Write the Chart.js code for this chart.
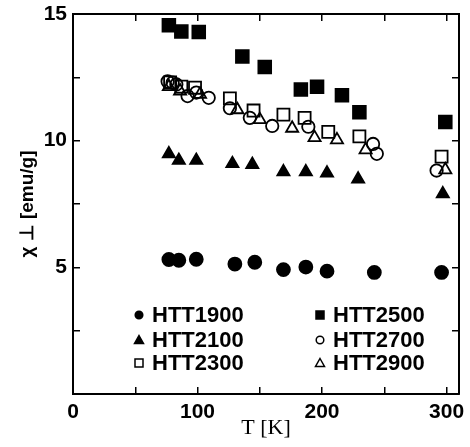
<!DOCTYPE html>
<html>
<head>
<meta charset="utf-8">
<script src="https://cdn.jsdelivr.net/npm/chart.js@4.4.1/dist/chart.umd.min.js"></script>
<style>
  html, body { margin: 0; padding: 0; background: #fff; }
  #wrap { width: 470px; height: 447px; }
</style>
</head>
<body>
<div id="wrap"><canvas id="chart" width="470" height="447"></canvas></div>
<script>

// T [K] and chi values, one pair of arrays per sample
const tHTT1900 = [77, 85, 99, 130, 146, 169, 187, 204, 242, 296]
const chiHTT1900 = [5.31, 5.28, 5.32, 5.13, 5.20, 4.91, 5.01, 4.85, 4.80, 4.80]

const tHTT2100 = [77, 85, 99, 128, 144, 169, 187, 204, 229, 297]
const chiHTT2100 = [9.48, 9.22, 9.22, 9.09, 9.06, 8.77, 8.77, 8.72, 8.48, 7.90]

const tHTT2300 = [78, 87, 98, 126, 145, 169, 186, 205, 230, 296]
const chiHTT2300 = [12.30, 12.13, 12.09, 11.67, 11.19, 11.03, 10.90, 10.35, 10.17, 9.37]

const tHTT2500 = [77, 87, 101, 136, 154, 183, 196, 216, 230, 299]
const chiHTT2500 = [14.56, 14.31, 14.29, 13.32, 12.91, 12.02, 12.13, 11.79, 11.12, 10.74]

const tHTT2700 = [76, 80, 83, 92, 99, 109, 126, 142, 160, 189, 241, 244, 292]
const chiHTT2700 = [12.34, 12.29, 12.22, 11.76, 11.90, 11.69, 11.28, 10.90, 10.58, 10.55, 9.87, 9.48, 8.82]

const tHTT2900 = [77, 86, 102, 132, 150, 176, 194, 212, 235, 299]
const chiHTT2900 = [12.13, 11.96, 11.83, 11.22, 10.83, 10.49, 10.12, 10.03, 9.64, 8.85]

const xTickLabels = [0, 100, 200, 300]
const yTickLabels = [5, 10, 15]

const toPoints = (xs, ys) => xs.map((v, i) => ({x: v, y: ys[i]}))

const tickFont = {family: '"Liberation Sans", Arial, sans-serif', size: 21, weight: 'bold'}

// inward tick marks, no grid on the plot
const frameGrid = {drawOnChartArea: false, tickLength: -7, color: '#000', lineWidth: 1.5}
const frameBorder = {color: '#000', width: 2}

// keep the plot box where it is in the figure, labels may hang over
const noOverhang = s => { s.paddingLeft = 0; s.paddingRight = 0; s.paddingTop = 0; s.paddingBottom = 0 }

// legend drawn inside the plot, two columns
const insideLegend = {
  id: 'insideLegend',
  afterDatasetsDraw(chart) {
    const ctx = chart.ctx
    const cols = [139, 320]
    const rows = [315, 340, 363]
    ctx.save()
    ctx.font = 'bold 22px "Liberation Sans", Arial, sans-serif'
    ctx.textBaseline = 'middle'
    ctx.textAlign = 'left'
    chart.data.datasets.forEach((ds, i) => {
      const mx = cols[Math.floor(i / 3)]
      const my = rows[i % 3]
      const filled = ds.backgroundColor === '#000'
      ctx.beginPath()
      if (ds.pointStyle === 'circle') {
        ctx.arc(mx, my, 3.8, 0, Math.PI * 2)
      } else if (ds.pointStyle === 'rect') {
        ctx.rect(mx - 4, my - 4, 8, 8)
      } else {
        ctx.moveTo(mx, my - 4.5)
        ctx.lineTo(mx + 4.5, my + 3.5)
        ctx.lineTo(mx - 4.5, my + 3.5)
        ctx.closePath()
      }
      ctx.lineWidth = 1.5
      ctx.strokeStyle = '#000'
      ctx.fillStyle = filled ? '#000' : '#fff'
      ctx.fill()
      ctx.stroke()
      ctx.fillStyle = '#000'
      ctx.fillText(ds.label, mx + 13, my + 1)
    })
    ctx.restore()
  }
}

const datasets = [
  {label: 'HTT1900', data: toPoints(tHTT1900, chiHTT1900), pointStyle: 'circle', pointRadius: 6.5, backgroundColor: '#000'},
  {label: 'HTT2100', data: toPoints(tHTT2100, chiHTT2100), pointStyle: 'triangle', pointRadius: 7, backgroundColor: '#000'},
  {label: 'HTT2300', data: toPoints(tHTT2300, chiHTT2300), pointStyle: 'rect', pointRadius: 8.5, backgroundColor: 'rgba(0,0,0,0)'},
  {label: 'HTT2500', data: toPoints(tHTT2500, chiHTT2500), pointStyle: 'rect', pointRadius: 9, backgroundColor: '#000'},
  {label: 'HTT2700', data: toPoints(tHTT2700, chiHTT2700), pointStyle: 'circle', pointRadius: 6.2, backgroundColor: 'rgba(0,0,0,0)'},
  {label: 'HTT2900', data: toPoints(tHTT2900, chiHTT2900), pointStyle: 'triangle', pointRadius: 7, backgroundColor: 'rgba(0,0,0,0)'},
].map(d => ({...d, borderColor: '#000', borderWidth: 1.8, showLine: false}))

new Chart(document.getElementById('chart'), {
  type: 'scatter',
  data: {datasets},
  options: {
    responsive: false,
    animation: false,
    layout: {padding: {top: 14, right: 11, left: 0, bottom: 0}},
    plugins: {legend: {display: false}, tooltip: {enabled: false}},
    scales: {
      x: {
        type: 'linear', position: 'bottom', min: 0, max: 310,
        ticks: {
          stepSize: 50, includeBounds: false, autoSkip: false, maxRotation: 0,
          padding: 13, color: '#000', font: tickFont,
          callback: v => xTickLabels.includes(v) ? String(v) : ''
        },
        grid: frameGrid,
        border: frameBorder,
        title: {
          display: true, text: 'T [K]', color: '#000',
          font: {family: '"Liberation Serif", "Times New Roman", serif', size: 22},
          padding: {top: 0, bottom: 6}
        },
        afterFit(s) { s.height = 53; noOverhang(s) }
      },
      x2: {
        type: 'linear', position: 'top', min: 0, max: 310,
        ticks: {stepSize: 50, includeBounds: false, display: false},
        grid: frameGrid,
        border: frameBorder,
        afterFit(s) { s.height = 0; noOverhang(s) }
      },
      y: {
        type: 'linear', position: 'left', min: 0, max: 15,
        ticks: {
          stepSize: 2.5, includeBounds: false, autoSkip: false,
          padding: 13, color: '#000', font: tickFont,
          callback: v => yTickLabels.includes(v) ? String(v) : ''
        },
        grid: frameGrid,
        border: frameBorder,
        title: {
          display: true, text: 'χ ⊥ [emu/g]', color: '#000',
          font: {family: '"Liberation Sans", Arial, sans-serif', size: 19, weight: 'bold'},
          padding: {top: 16, bottom: 0}
        },
        afterFit(s) { s.width = 73; noOverhang(s) }
      },
      y2: {
        type: 'linear', position: 'right', min: 0, max: 15,
        ticks: {stepSize: 2.5, includeBounds: false, display: false},
        grid: frameGrid,
        border: frameBorder,
        afterFit(s) { s.width = 0; noOverhang(s) }
      }
    }
  },
  plugins: [insideLegend]
})

</script>
</body>
</html>
